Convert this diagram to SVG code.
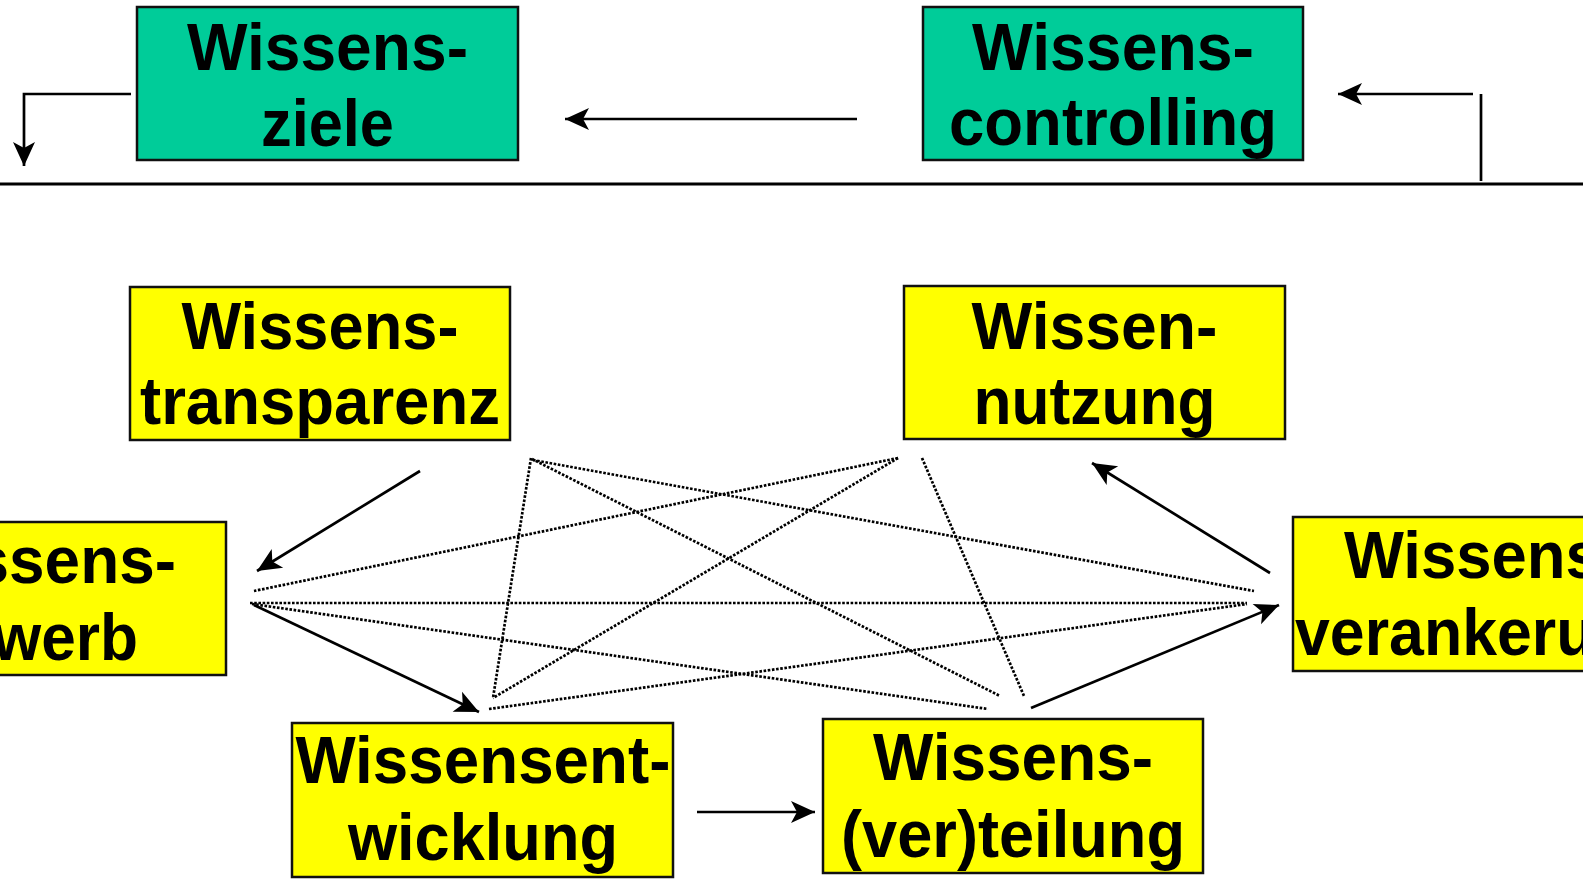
<svg xmlns="http://www.w3.org/2000/svg" width="1583" height="888" viewBox="0 0 1583 888">
  <style>
    .box-green { fill: #00CC99; stroke: #111; stroke-width: 2.5; }
    .box-yellow { fill: #FFFF00; stroke: #111; stroke-width: 2.5; }
    .lbl { font-family: "Liberation Sans", Arial, sans-serif; font-weight: bold; font-size: 67px; fill: #000; text-anchor: middle; }
    .solid { fill: none; stroke: #000; stroke-width: 2.7; }
    .arrow { fill: none; stroke: #000; stroke-width: 2.7; marker-end: url(#ah); }
    .dotted { fill: none; stroke: #000; stroke-width: 2.7; stroke-dasharray: 2.6 1.6; }
    .rule { fill: none; stroke: #000; stroke-width: 3; }
  </style>
  <defs>
    <marker id="ah" markerUnits="userSpaceOnUse" markerWidth="28" markerHeight="28" viewBox="-26 -14 28 28" refX="0" refY="0" orient="auto">
      <path d="M0,0 L-24,-11 L-18,0 L-24,11 Z" fill="#000"/>
    </marker>
  </defs>

  <rect width="1583" height="888" fill="#fff"/>

  <!-- top goal / control row -->
  <g id="wissensziele">
    <rect class="box-green" x="137" y="7" width="381" height="153"/>
    <text class="lbl" x="327.5" y="70" textLength="281" lengthAdjust="spacingAndGlyphs">Wissens-</text>
    <text class="lbl" x="327.5" y="146" textLength="133" lengthAdjust="spacingAndGlyphs">ziele</text>
  </g>
  <g id="wissenscontrolling">
    <rect class="box-green" x="923" y="7" width="380" height="153"/>
    <text class="lbl" x="1113" y="70" textLength="282" lengthAdjust="spacingAndGlyphs">Wissens-</text>
    <text class="lbl" x="1113" y="145" textLength="328" lengthAdjust="spacingAndGlyphs">controlling</text>
  </g>

  <!-- core building blocks -->
  <g id="wissenstransparenz">
    <rect class="box-yellow" x="130" y="287" width="380" height="153"/>
    <text class="lbl" x="320" y="349" textLength="277" lengthAdjust="spacingAndGlyphs">Wissens-</text>
    <text class="lbl" x="320" y="424" textLength="360" lengthAdjust="spacingAndGlyphs">transparenz</text>
  </g>
  <g id="wissennutzung">
    <rect class="box-yellow" x="904" y="286" width="381" height="153"/>
    <text class="lbl" x="1094.5" y="349" textLength="246" lengthAdjust="spacingAndGlyphs">Wissen-</text>
    <text class="lbl" x="1094.5" y="424" textLength="242" lengthAdjust="spacingAndGlyphs">nutzung</text>
  </g>
  <g id="wissenserwerb">
    <rect class="box-yellow" x="-154" y="522" width="380" height="153"/>
    <text class="lbl" x="36" y="583" textLength="280" lengthAdjust="spacingAndGlyphs">Wissens-</text>
    <text class="lbl" x="36" y="660" textLength="204" lengthAdjust="spacingAndGlyphs">erwerb</text>
  </g>
  <g id="wissensverankerung">
    <rect class="box-yellow" x="1293" y="517" width="380" height="154"/>
    <text class="lbl" x="1483" y="578" textLength="278" lengthAdjust="spacingAndGlyphs">Wissens-</text>
    <text class="lbl" x="1483" y="655" textLength="376" lengthAdjust="spacingAndGlyphs">verankerung</text>
  </g>
  <g id="wissensentwicklung">
    <rect class="box-yellow" x="292" y="723" width="381" height="154"/>
    <text class="lbl" x="483" y="783" textLength="375" lengthAdjust="spacingAndGlyphs">Wissensent-</text>
    <text class="lbl" x="483" y="860" textLength="270" lengthAdjust="spacingAndGlyphs">wicklung</text>
  </g>
  <g id="wissensverteilung">
    <rect class="box-yellow" x="823" y="719" width="380" height="154"/>
    <text class="lbl" x="1013" y="780" textLength="280" lengthAdjust="spacingAndGlyphs">Wissens-</text>
    <text class="lbl" x="1013" y="857" textLength="344" lengthAdjust="spacingAndGlyphs">(ver)teilung</text>
  </g>

  <g id="connectors">
    <!-- divider between steering level and core processes -->
    <line class="rule" x1="0" y1="184" x2="1583" y2="184"/>

    <!-- feedback loop on the steering level -->
    <line class="arrow" x1="857" y1="119" x2="565" y2="119"/>
    <polyline class="arrow" points="131,94 24,94 24,166"/>
    <line class="solid" x1="1481" y1="94" x2="1481" y2="181"/>
    <line class="arrow" x1="1473" y1="94" x2="1338" y2="94"/>

    <!-- process cycle -->
    <line class="arrow" x1="420" y1="471" x2="257" y2="571"/>
    <line class="arrow" x1="254" y1="605" x2="479" y2="712"/>
    <line class="arrow" x1="697" y1="812" x2="815" y2="812"/>
    <line class="arrow" x1="1031" y1="708" x2="1279" y2="605"/>
    <line class="arrow" x1="1270" y1="573" x2="1092" y2="463"/>

    <!-- mutual interdependencies -->
    <line class="dotted" x1="531" y1="458" x2="493" y2="698"/>
    <line class="dotted" x1="532" y1="459" x2="1000" y2="696"/>
    <line class="dotted" x1="533" y1="460" x2="1254" y2="591"/>
    <line class="dotted" x1="898" y1="458" x2="254" y2="591"/>
    <line class="dotted" x1="898" y1="458" x2="493" y2="698"/>
    <line class="dotted" x1="922" y1="458" x2="1024" y2="696"/>
    <line class="dotted" x1="250" y1="603" x2="1247" y2="603"/>
    <line class="dotted" x1="252" y1="604" x2="988" y2="709"/>
    <line class="dotted" x1="489" y1="709" x2="1247" y2="604"/>
  </g>
</svg>
